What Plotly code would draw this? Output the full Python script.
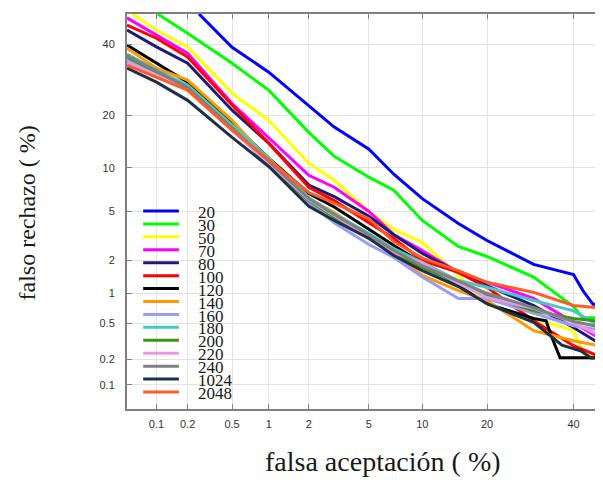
from statistics import NormalDist
import plotly.graph_objects as go

# DET curves: falsa aceptacion (%) vs falso rechazo (%), one curve per size
labels = ['20', '30', '50', '70', '80', '100', '120', '140', '160', '180',
          '200', '220', '240', '1024', '2048']
colors = ['#0000ff', '#00ff00', '#ffff00', '#ff00ff', '#1c1c78', '#ff0000',
          '#000000', '#ff9900', '#9b9bf5', '#48c8c4', '#3c9614', '#e49be4',
          '#808080', '#1e3048', '#ff5a28']

fa_grid = [0.05, 0.1, 0.2, 0.5, 1, 2, 3, 5, 7, 10, 15, 20, 30, 40, 48]

fa_20 = [0.255, 0.5, 1, 2, 3, 5, 7, 10, 15, 20, 30, 40, 42.5, 45.2, 48]
fr_20 = [50, 39.1, 31.4, 22.1, 17.3, 13.0, 9.1, 6.2, 4.05, 2.96, 1.85, 1.5, 1.06, 0.78, 0.78]

fa_30 = [0.103, 0.2, 0.5, 1, 2, 3, 5, 7, 10, 15, 20, 30, 40, 42.5, 48]
fr_30 = [50, 43.6, 34.1, 26.3, 16.2, 11.8, 8.7, 7.1, 4.27, 2.64, 2.17, 1.42, 0.74, 0.57, 0.57]

fa_50 = [0.057, 0.1, 0.2, 0.5, 1, 2, 3, 5, 7, 10, 15, 20, 30, 40, 43, 48]
fr_50 = [50, 44.7, 39.2, 25.5, 18.8, 10.7, 8.3, 5.0, 3.64, 2.86, 1.47, 0.78, 0.56, 0.42, 0.22, 0.22]

fr_70 = [48.7, 43.0, 37.2, 22.8, 15.2, 8.95, 7.45, 5.0, 3.31, 2.44, 1.57, 1.27, 0.89, 0.51, 0.325]
fr_80 = [44.7, 39.2, 34.1, 21.15, 14.1, 7.7, 6.4, 4.6, 3.3, 2.3, 1.57, 1.18, 0.757, 0.45, 0.286]
fr_100 = [46.3, 42.0, 36.0, 22.4, 14.1, 7.45, 6.0, 4.1, 3.08, 2.0, 1.57, 1.14, 0.53, 0.286, 0.208]
fr_140 = [38.8, 32.6, 29.1, 18.8, 11.15, 6.2, 4.9, 3.25, 2.35, 1.47, 1.06, 0.85, 0.417, 0.325, 0.28]
fr_160 = [35.0, 31.4, 27.4, 17.1, 10.8, 5.8, 4.1, 2.74, 2.13, 1.42, 0.89, 0.89, 0.64, 0.47, 0.417]
fr_180 = [36.9, 32.0, 27.7, 17.7, 11.5, 6.3, 4.8, 3.38, 2.53, 1.93, 1.32, 1.14, 0.85, 0.67, 0.44]
fr_200 = [36.0, 31.4, 26.9, 17.1, 10.4, 6.0, 4.5, 3.08, 2.35, 1.74, 1.26, 0.95, 0.67, 0.56, 0.52]
fr_220 = [34.4, 30.5, 26.3, 16.65, 10.8, 6.1, 4.67, 3.15, 2.35, 1.9, 1.24, 0.91, 0.71, 0.51, 0.35]
fr_240 = [36.5, 31.8, 27.0, 17.0, 11.0, 6.2, 4.75, 3.3, 2.44, 1.8, 1.3, 1.0, 0.72, 0.52, 0.45]
fr_2048 = [33.5, 29.9, 26.3, 16.65, 11.15, 6.85, 5.75, 4.4, 2.9, 2.1, 1.63, 1.27, 1.02, 0.76, 0.71]

fa_120 = [0.05, 0.1, 0.2, 0.5, 1, 2, 3, 5, 7, 10, 15, 20, 30, 33, 34.7, 36.5, 48]
fr_120 = [39.8, 34.1, 28.5, 18.1, 11.5, 6.75, 5.4, 3.64, 2.69, 1.9, 1.18, 0.79, 0.56, 0.53, 0.33, 0.21, 0.21]

fa_1024 = [0.05, 0.1, 0.2, 0.5, 1, 2, 3, 5, 7, 10, 15, 20, 30, 37, 42, 44.7, 48]
fr_1024 = [32.6, 28.5, 23.6, 15.2, 10.2, 5.45, 4.27, 3.08, 2.21, 1.63, 1.16, 0.79, 0.51, 0.29, 0.25, 0.208, 0.208]

series = [
    (fa_20, fr_20), (fa_30, fr_30), (fa_50, fr_50), (fa_grid, fr_70),
    (fa_grid, fr_80), (fa_grid, fr_100), (fa_120, fr_120), (fa_grid, fr_140),
    (fa_grid, fr_160), (fa_grid, fr_180), (fa_grid, fr_200), (fa_grid, fr_220),
    (fa_grid, fr_240), (fa_1024, fr_1024), (fa_grid, fr_2048),
]

tick_pct = [0.1, 0.2, 0.5, 1, 2, 5, 10, 20, 40]
tick_txt = ['0.1', '0.2', '0.5', '1', '2', '5', '10', '20', '40']


def probit(p):
    return NormalDist().inv_cdf(p / 100.0)


fig = go.Figure()
for (xs, ys), name, c in zip(series, labels, colors):
    fig.add_trace(go.Scatter(x=[probit(v) for v in xs], y=[probit(v) for v in ys],
                             mode='lines', name=name, line=dict(color=c, width=3),
                             showlegend=False))

# legend drawn by hand (tight spacing as in the original)
serif = 'Liberation Serif'
for i, (name, c) in enumerate(zip(labels, colors)):
    yp = (409 - (211 + 12.93 * i)) / 395
    fig.add_shape(type='line', xref='paper', yref='paper', x0=0.034, x1=0.109,
                  y0=yp, y1=yp, line=dict(color=c, width=3))
    fig.add_annotation(xref='paper', yref='paper', x=0.145, y=yp - 0.004, text=name,
                       showarrow=False, xanchor='left', yanchor='middle',
                       font=dict(family=serif, size=17, color='#1a1a1a'))

fig.add_annotation(xref='paper', yref='paper', x=0.538, y=-0.134,
                   text='falsa aceptación ( %)', showarrow=False,
                   xanchor='center', yanchor='middle',
                   font=dict(family=serif, size=28, color='#1a1a1a'))
fig.add_annotation(xref='paper', yref='paper', x=-0.21, y=0.495,
                   text='falso rechazo ( %)', showarrow=False, textangle=-90,
                   xanchor='center', yanchor='middle',
                   font=dict(family=serif, size=24, color='#1a1a1a'))

axis_style = dict(
    tickmode='array', tickvals=[probit(v) for v in tick_pct], ticktext=tick_txt,
    showgrid=True, gridcolor='#e3e3e3', gridwidth=1, zeroline=False,
    showline=True, linecolor='#7f7f7f', linewidth=2,
    ticks='inside', ticklen=5, tickcolor='#7f7f7f', tickwidth=1,
    tickfont=dict(family='Liberation Sans', size=11, color='#333333'),
)
fig.update_xaxes(range=[probit(0.05), probit(47.9)], mirror='ticks',
                 ticklabelstandoff=4, **axis_style)
fig.update_yaxes(range=[probit(0.05), 0], ticklabelstandoff=8, **axis_style)

# the page body adds an 8px margin, so the figure is sized to fit inside it
fig.update_layout(
    width=595, height=475,
    margin=dict(l=119, r=0, t=6, b=74),
    plot_bgcolor='white', paper_bgcolor='white',
)

fig.write_html("out.html")
